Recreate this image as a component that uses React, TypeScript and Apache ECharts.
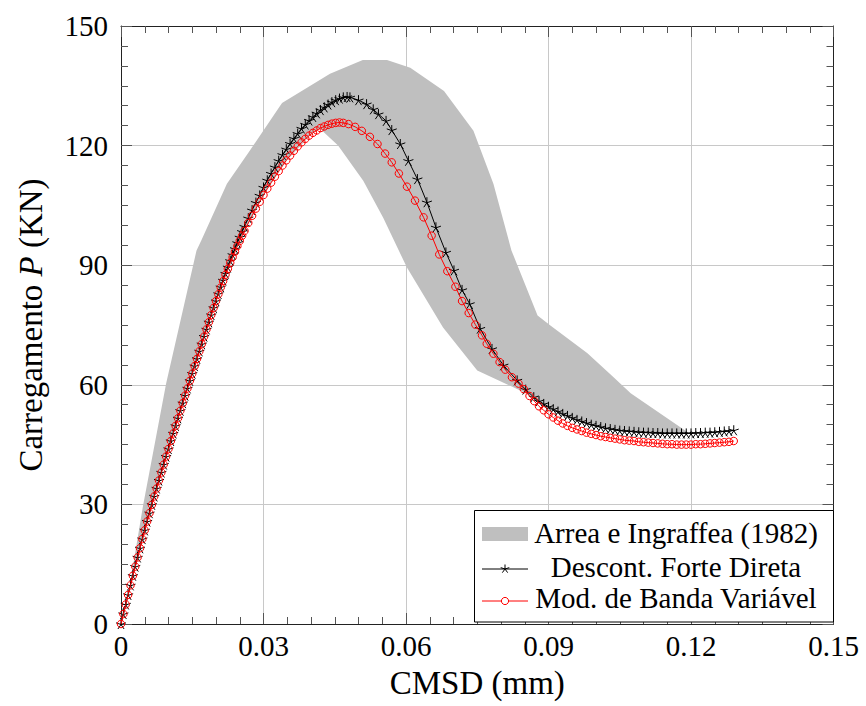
import React, { useEffect, useRef } from "react";
import * as echarts from "echarts";

const FONT = "Liberation Serif";

// x ticks (CMSD, mm) and y ticks (P, kN)
const xTicks = [0, 0.03, 0.06, 0.09, 0.12, 0.15];
const yTicks = [0, 30, 60, 90, 120, 150];

// Arrea e Ingraffea (1982) experimental envelope
const bandUpper: number[][] = [
  [0, 0], [0.0011, 4.3], [0.0046, 29.4], [0.0095, 60.3], [0.0159, 93.7],
  [0.0169, 96.2], [0.0223, 110.4], [0.0271, 118.7], [0.0339, 130.7], [0.044, 138.0],
  [0.0509, 141.5], [0.056, 141.5], [0.0609, 139.5], [0.068, 133.7], [0.0742, 123.7],
  [0.0784, 110.4], [0.0822, 93.7], [0.0877, 77.4], [0.0904, 74.9], [0.0982, 67.9],
  [0.1037, 61.9], [0.1073, 57.9], [0.1193, 48.1],
];
const bandLower: number[][] = [
  [0, 0], [0.005, 23.5], [0.01, 43.9], [0.015, 62.8], [0.02, 81.0], [0.025, 96.1],
  [0.03, 107.6], [0.035, 116.4], [0.04, 122.8], [0.0419, 124.2], [0.0457, 120.0],
  [0.051, 111.2], [0.0552, 101.9], [0.0602, 89.4], [0.0678, 74.4], [0.075, 63.6],
  [0.0826, 59.4], [0.0847, 58.2], [0.09, 54.5], [0.095, 51.7], [0.1, 49.7],
  [0.105, 48.5], [0.11, 48.0], [0.1193, 47.8],
];

// Descont. Forte Direta
const forteDireta: number[][] = [
  [0, 0], [0.0005, 2.5], [0.001, 4.9], [0.0015, 7.3], [0.002, 9.7], [0.0025, 12.1], [0.003, 14.4],
  [0.0035, 16.7], [0.004, 19.0], [0.0045, 21.3], [0.005, 23.5], [0.0055, 25.7], [0.006, 27.8],
  [0.0065, 29.9], [0.007, 32.0], [0.0075, 34.0], [0.008, 36.0], [0.0085, 38.0], [0.009, 40.0],
  [0.0095, 42.0], [0.01, 43.9], [0.0105, 45.9], [0.011, 47.8], [0.0115, 49.7], [0.012, 51.6],
  [0.0125, 53.5], [0.013, 55.4], [0.0135, 57.3], [0.014, 59.1], [0.0145, 61.0], [0.015, 62.8],
  [0.0155, 64.7], [0.016, 66.5], [0.0165, 68.4], [0.017, 70.2], [0.0175, 72.1], [0.018, 73.9],
  [0.0185, 75.7], [0.019, 77.5], [0.0195, 79.3], [0.02, 81.0], [0.0205, 82.8], [0.021, 84.5],
  [0.0215, 86.2], [0.022, 87.9], [0.0225, 89.5], [0.023, 91.1], [0.0235, 92.6], [0.024, 94.1],
  [0.0245, 95.6], [0.025, 97.0], [0.0255, 98.4], [0.026, 99.7], [0.0268, 101.8], [0.0276, 103.8],
  [0.0284, 105.7], [0.0292, 107.5], [0.03, 109.5], [0.0308, 111.3], [0.0316, 113.0], [0.0324, 114.6],
  [0.0332, 116.2], [0.034, 117.7], [0.0348, 119.1], [0.0356, 120.5], [0.0364, 121.8], [0.0372, 123.0],
  [0.038, 124.3], [0.0388, 125.3], [0.0396, 126.3], [0.0404, 127.2], [0.0412, 128.1], [0.042, 128.9],
  [0.0428, 129.6], [0.0436, 130.3], [0.0444, 130.9], [0.0452, 131.4], [0.046, 131.8], [0.0468, 132.1],
  [0.0476, 132.2], [0.0482, 132.1], [0.05, 131.4], [0.0517, 130.4], [0.0531, 129.1], [0.0542, 127.9],
  [0.0558, 126.2], [0.057, 123.9], [0.0588, 120.4], [0.0605, 116.2], [0.0624, 111.6], [0.0644, 105.8],
  [0.0663, 99.5], [0.0684, 93.2], [0.0701, 88.7], [0.0718, 83.8], [0.0734, 80.3], [0.0756, 74.1],
  [0.0781, 69.0], [0.0805, 64.9], [0.0834, 61.1], [0.0852, 58.8], [0.0869, 56.9], [0.088, 55.9],
  [0.089, 55.2], [0.09, 54.5], [0.091, 53.9], [0.092, 53.3], [0.093, 52.7], [0.094, 52.2],
  [0.095, 51.7], [0.096, 51.2], [0.097, 50.8], [0.098, 50.4], [0.099, 50.0], [0.1, 49.7],
  [0.101, 49.4], [0.102, 49.1], [0.103, 48.9], [0.104, 48.7], [0.105, 48.5], [0.106, 48.4],
  [0.107, 48.3], [0.108, 48.2], [0.109, 48.1], [0.11, 48.0], [0.111, 48.0], [0.112, 47.9],
  [0.113, 47.9], [0.114, 47.8], [0.115, 47.8], [0.116, 47.8], [0.117, 47.8], [0.118, 47.8],
  [0.119, 47.8], [0.12, 47.8], [0.121, 47.9], [0.122, 47.9], [0.123, 48.0], [0.124, 48.0],
  [0.125, 48.1], [0.126, 48.2], [0.127, 48.3], [0.128, 48.4], [0.129, 48.6],
];

// Mod. de Banda Variável
const bandaVariavel: number[][] = [
  [0, 0], [0.0005, 2.5], [0.001, 4.9], [0.0015, 7.3], [0.002, 9.7], [0.0025, 12.1], [0.003, 14.4],
  [0.0035, 16.7], [0.004, 19.0], [0.0045, 21.3], [0.005, 23.5], [0.0055, 25.7], [0.006, 27.8],
  [0.0065, 29.9], [0.007, 32.0], [0.0075, 34.0], [0.008, 36.0], [0.0085, 38.0], [0.009, 40.0],
  [0.0095, 42.0], [0.01, 43.9], [0.0105, 45.9], [0.011, 47.8], [0.0115, 49.7], [0.012, 51.6],
  [0.0125, 53.5], [0.013, 55.4], [0.0135, 57.3], [0.014, 59.1], [0.0145, 61.0], [0.015, 62.8],
  [0.0155, 64.7], [0.016, 66.5], [0.0165, 68.4], [0.017, 70.2], [0.0175, 72.1], [0.018, 73.9],
  [0.0185, 75.7], [0.019, 77.5], [0.0195, 79.3], [0.02, 81.0], [0.0205, 82.7], [0.021, 84.4],
  [0.0215, 86.0], [0.022, 87.6], [0.0225, 89.1], [0.023, 90.6], [0.0235, 92.0], [0.024, 93.4],
  [0.0245, 94.8], [0.025, 96.1], [0.0255, 97.4], [0.026, 98.6], [0.0268, 100.6], [0.0276, 102.4],
  [0.0284, 104.2], [0.0292, 105.9], [0.03, 107.6], [0.0308, 109.2], [0.0316, 110.7], [0.0324, 112.2],
  [0.0332, 113.6], [0.034, 115.0], [0.0348, 116.3], [0.0356, 117.5], [0.0364, 118.7], [0.0372, 119.8],
  [0.038, 120.8], [0.0388, 121.7], [0.0396, 122.5], [0.0404, 123.2], [0.0412, 123.8], [0.042, 124.4],
  [0.0428, 124.8], [0.0436, 125.2], [0.0444, 125.5], [0.0452, 125.7], [0.046, 125.8], [0.0468, 125.7],
  [0.0479, 125.4], [0.0493, 124.7], [0.0507, 123.7], [0.0524, 122.2], [0.054, 120.4], [0.0556, 118.0],
  [0.057, 115.8], [0.0585, 113.0], [0.0602, 109.7], [0.0619, 106.2], [0.0637, 102.0], [0.0654, 97.4],
  [0.067, 92.7], [0.0687, 88.5], [0.0704, 84.6], [0.0718, 81.0], [0.0732, 78.0], [0.0746, 75.1],
  [0.076, 72.4], [0.077, 70.3], [0.0784, 67.8], [0.0797, 65.7], [0.0809, 63.8], [0.0823, 61.9],
  [0.0837, 60.3], [0.0848, 58.9], [0.086, 57.2], [0.087, 55.9], [0.088, 54.6], [0.089, 53.6],
  [0.09, 52.6], [0.091, 51.8], [0.092, 51.0], [0.093, 50.3], [0.094, 49.7], [0.095, 49.2],
  [0.096, 48.8], [0.097, 48.4], [0.098, 48.0], [0.099, 47.7], [0.1, 47.4], [0.101, 47.1],
  [0.102, 46.9], [0.103, 46.7], [0.104, 46.5], [0.105, 46.3], [0.106, 46.1], [0.107, 46.0],
  [0.108, 45.9], [0.109, 45.7], [0.11, 45.6], [0.111, 45.5], [0.112, 45.4], [0.113, 45.3],
  [0.114, 45.2], [0.115, 45.1], [0.116, 45.1], [0.117, 45.0], [0.118, 45.0], [0.119, 45.0],
  [0.12, 45.0], [0.121, 45.1], [0.122, 45.1], [0.123, 45.2], [0.124, 45.3], [0.125, 45.4],
  [0.126, 45.5], [0.127, 45.6], [0.128, 45.7], [0.129, 45.9],
];

const legendLabels = ["Arrea e Ingraffea (1982)", "Descont. Forte Direta", "Mod. de Banda Variável"];

const STAR = "path://M0,-10L0,0M9.51,-3.09L0,0M5.88,8.09L0,0M-5.88,8.09L0,0M-9.51,-3.09L0,0";

function starLines(cx: number, cy: number, r: number, color: string) {
  const out: any[] = [];
  for (let k = 0; k < 5; k++) {
    const a = -Math.PI / 2 + (k * 2 * Math.PI) / 5;
    out.push({
      type: "line",
      shape: { x1: cx, y1: cy, x2: cx + r * Math.cos(a), y2: cy + r * Math.sin(a) },
      style: { stroke: color, lineWidth: 1 },
      z: 102,
    });
  }
  return out;
}

export default function App() {
  const ref = useRef<HTMLDivElement>(null);
  useEffect(() => {
    if (!ref.current) return;
    const chart = echarts.init(ref.current, undefined, { renderer: "svg" });
    const tickStyle = { color: "#555", width: 1 };
    const labelText = { fontFamily: FONT, fontSize: 29, color: "#000" };
    const nameText = { fontFamily: FONT, fontSize: 33, color: "#000" };
    const lx = 474.5, ly = 510.5, lw = 359, lh = 111.5;
    const textX = 676;
    const gText = (text: string, y: number) => ({
      type: "text",
      x: textX,
      y,
      z: 101,
      style: { text, fontFamily: FONT, fontSize: 29, fill: "#000", textAlign: "center", textVerticalAlign: "middle" },
    });
    const graphic: any[] = [
      { type: "rect", shape: { x: lx, y: ly, width: lw, height: lh }, style: { fill: "#fff", stroke: "#000", lineWidth: 1 }, z: 100 },
      { type: "rect", shape: { x: 482, y: 527, width: 46, height: 14 }, style: { fill: "#bfbfbf" }, z: 101 },
      gText(legendLabels[0], 533),
      { type: "line", shape: { x1: 482, y1: 569, x2: 528, y2: 569 }, style: { stroke: "#000", lineWidth: 1 }, z: 101 },
      ...starLines(505, 569, 4.5, "#000"),
      gText(legendLabels[1], 567),
      { type: "line", shape: { x1: 482, y1: 601, x2: 528, y2: 601 }, style: { stroke: "#ff0000", lineWidth: 1 }, z: 101 },
      { type: "circle", shape: { cx: 505, cy: 601, r: 3.6 }, style: { fill: "#fff", stroke: "#ff0000", lineWidth: 1 }, z: 102 },
      gText(legendLabels[2], 598),
    ];

    const bandPolygon = [...bandUpper, ...bandLower.slice().reverse()];

    const xBase = {
      type: "value",
      min: xTicks[0],
      max: xTicks[xTicks.length - 1],
      interval: 0.03,
      axisLine: { show: true, onZero: false, lineStyle: { color: "#222", width: 1 } },
      axisTick: { show: true, inside: true, length: 11, lineStyle: tickStyle },
      minorTick: { show: true, splitNumber: 6, length: 7, lineStyle: tickStyle },
    };
    const yBase = {
      type: "value",
      min: yTicks[0],
      max: yTicks[yTicks.length - 1],
      interval: 30,
      axisLine: { show: true, onZero: false, lineStyle: { color: "#222", width: 1 } },
      axisTick: { show: true, inside: true, length: 11, lineStyle: tickStyle },
      minorTick: { show: true, splitNumber: 6, length: 7, lineStyle: tickStyle },
    };

    chart.setOption({
      animation: false,
      grid: { left: 121, right: 32.5, top: 26, bottom: 82 },
      xAxis: [
        {
          ...xBase,
          position: "bottom",
          name: "CMSD (mm)",
          nameLocation: "middle",
          nameGap: 42,
          nameTextStyle: nameText,
          axisLabel: {
            ...labelText,
            margin: 7,
            formatter: (v: number) => (v === 0 ? "0" : v.toFixed(2)),
          },
          splitLine: { show: true, lineStyle: { color: "#c8c8c8", width: 1 } },
        },
        {
          ...xBase,
          position: "top",
          axisLabel: { show: false },
          splitLine: { show: false },
        },
      ],
      yAxis: [
        {
          ...yBase,
          position: "left",
          name: "{n|Carregamento }{i|P}{n| (KN)}",
          nameLocation: "middle",
          nameGap: 74,
          nameRotate: 90,
          nameTextStyle: {
            ...nameText,
            rich: {
              n: { ...nameText },
              i: { ...nameText, fontStyle: "italic" },
            },
          },
          axisLabel: { ...labelText, margin: 13 },
          splitLine: { show: true, lineStyle: { color: "#c8c8c8", width: 1 } },
        },
        {
          ...yBase,
          position: "right",
          axisLabel: { show: false },
          splitLine: { show: false },
        },
      ],
      series: [
        {
          name: legendLabels[0],
          type: "custom",
          silent: true,
          clip: true,
          z: 1,
          data: [[0, 0]],
          renderItem: (_params: any, api: any) => {
            const pts = bandPolygon.map((p) => api.coord(p));
            return { type: "polygon", shape: { points: pts }, style: { fill: "#bfbfbf" } };
          },
        },
        {
          name: legendLabels[1],
          type: "line",
          silent: true,
          z: 2,
          data: forteDireta,
          showSymbol: true,
          showAllSymbol: true,
          symbol: STAR,
          symbolSize: 10,
          lineStyle: { color: "#000", width: 1 },
          itemStyle: { color: "#000", borderColor: "#000", borderWidth: 1 },
        },
        {
          name: legendLabels[2],
          type: "line",
          silent: true,
          z: 3,
          data: bandaVariavel,
          showSymbol: true,
          showAllSymbol: true,
          symbol: "circle",
          symbolSize: 7.5,
          lineStyle: { color: "#ff0000", width: 1 },
          itemStyle: { color: "none", borderColor: "#ff0000", borderWidth: 1 },
        },
      ],
      graphic,
    });
    return () => chart.dispose();
  }, []);
  return <div ref={ref} style={{ position: "fixed", left: 0, top: 0, width: 866, height: 706, background: "#fff" }} />;
}
